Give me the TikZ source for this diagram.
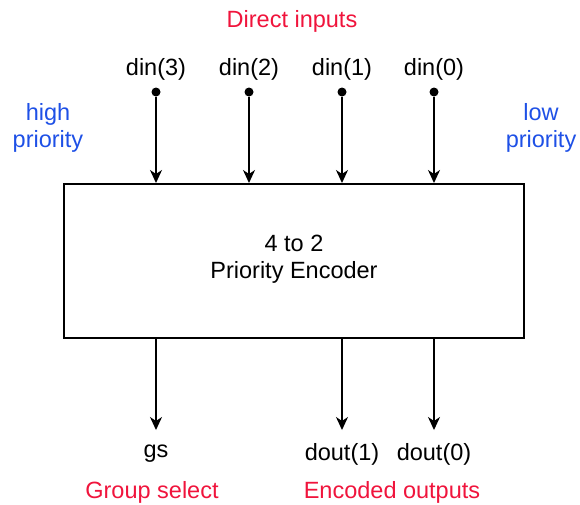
\documentclass[tikz,border=0pt]{standalone}
\usepackage{fontspec}
\setmainfont{Liberation Sans}
\usetikzlibrary{arrows.meta}
\definecolor{notered}{RGB}{240,20,60}
\definecolor{noteblue}{RGB}{30,80,230}
\begin{document}
\begin{tikzpicture}[x=1pt,y=-1pt,
  txt/.style={font=\fontsize{23.5}{27}\selectfont, inner sep=0pt, align=center},
  redtxt/.style={txt, text=notered},
  bluetxt/.style={txt, text=noteblue},
  pin/.style={circle, fill=black, inner sep=0pt, minimum size=9pt},
  sig/.style={line width=1.5pt, -{Stealth[length=13pt,width=12pt,inset=4pt]}},
  block/.style={draw, line width=2pt, minimum width=460pt, minimum height=154pt, inner sep=0pt}]
\useasboundingbox (0,0) rectangle (580,504);

% encoder block
\node[block] (enc) at (294,261) {};
\node[txt] (title) at (294,259) {4 to 2\\Priority Encoder};

% input pins and labels
\node[redtxt] (din) at (292,21) {Direct inputs};
\foreach \n/\x in {3/156,2/249,1/342,0/434}{
  \node[pin] (p\n) at (\x,92) {};
  \node[txt] (l\n) at (\x,69) {din(\n)};
  \draw[sig] (p\n) -- (p\n |- enc.north);
}

\node[bluetxt] (hi) at (48,128) {high\\priority};
\node[bluetxt] (lo) at (541,128) {low\\priority};

% outputs
\node[txt] (gs) at (156,454) {gs};
\node[txt] (o1) at (342,454) {dout(1)};
\node[txt] (o0) at (434,454) {dout(0)};
\coordinate (e3) at (156,430);
\coordinate (e1) at (342,430);
\coordinate (e0) at (434,430);
\draw[sig] (enc.south -| e3) -- (e3);
\draw[sig] (enc.south -| e1) -- (e1);
\draw[sig] (enc.south -| e0) -- (e0);

\node[redtxt] (grp) at (152,492) {Group select};
\node[redtxt] (enco) at (392,492) {Encoded outputs};
\end{tikzpicture}
\end{document}
